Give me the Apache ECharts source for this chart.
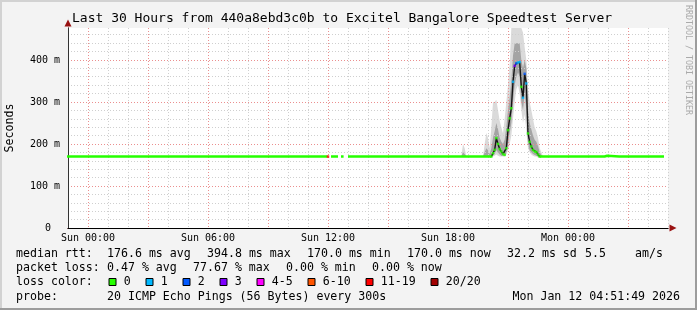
<!DOCTYPE html>
<html><head><meta charset="utf-8">
<script src="https://cdn.jsdelivr.net/npm/echarts@6/dist/echarts.min.js"></script>
<style>html,body{margin:0;padding:0;background:#f3f3f3}#c{width:697px;height:310px}</style>
</head><body><div id="c"></div>
<script>
// ---------- data ----------
const titleText = 'Last 30 Hours from 440a8ebd3c0b to Excitel Bangalore Speedtest Server';
const xTickHours = [0, 6, 12, 18, 24];
const xTickLabels = ['Sun 00:00', 'Sun 06:00', 'Sun 12:00', 'Sun 18:00', 'Mon 00:00'];
const yTickValues = [0, 100, 200, 300, 400];
const yTickLabels = ['0', '100 m', '200 m', '300 m', '400 m'];

// flat median (hours since Sun 00:00), null = no data
const flatTime  = [-1.05, 11.98, 12.06, 12.15, 12.5, 12.58, 12.65, 12.78, 12.9, 13.0, 13.86, 13.9, 13.94, 20.1667, 20.2,
                   22.55, 22.5833, 25.83, 25.88, 25.96, 26.0, 26.56, 26.6, 26.64, 27.31, 27.35, 27.39, 28.31, 28.35, 28.39, 28.8];
const flatValue = [170, 170, null, 170, 170, null, 170, 170, null, 170, 170, 172, 170, 170, null,
                   null, 170, 170, 172, 172, 170, 170, 172, 170, 170, 172, 170, 170, 172, 170, 170];

// spike samples (every 300 s)
const spikeTimes = ['20:10','20:15','20:20','20:25','20:30','20:35','20:40','20:45','20:50','20:55',
                    '21:00','21:05','21:10','21:15','21:20','21:25','21:30','21:35','21:40','21:45',
                    '21:50','21:55','22:00','22:05','22:10','22:15','22:20','22:25','22:30','22:35'];
const spikeMedian = [170,178,186,214,200,188,182,176,174,190,
                     233,261,285,348,386,392,394,395,336,310,
                     367,344,225,205,194,186,182,181,175,170];
const spikeLoss   = [0,0,0,0,0,0,0,0,0,0,
                     0,0,0,1,3,2,1,1,0,1,
                     2,1,0,0,0,0,0,0,0,0];

// isolated loss marks on the flat line
const markTime  = [12.0];
const markValue = [170];
const markLoss  = [6];

// smoke (ping spread)
const smokeTimes = ['18:40','18:45','18:50','18:55','19:45','19:50','19:55','20:00','20:05',
                    '20:10','20:15','20:20','20:25','20:30','20:35','20:40','20:45','20:50','20:55',
                    '21:00','21:05','21:10','21:15','21:20','21:25','21:30','21:35','21:40','21:45',
                    '21:50','21:55','22:00','22:05','22:10','22:15','22:20','22:25','22:30','22:35',
                    '22:40','22:45'];
const smokeLo  = [170,170,170,170,170,170,170,170,170,
                  168,170,172,175,172,170,170,170,170,175,
                  185,200,220,260,300,330,340,320,280,250,
                  270,230,190,180,175,172,170,170,168,168,
                  170,170];
const smokeHi  = [170,200,190,170,170,200,226,215,190,
                  240,300,300,305,280,255,240,225,260,300,
                  340,390,476,476,476,476,476,476,476,465,
                  430,400,330,300,280,260,240,230,215,190,
                  180,170];
const smokeMidLo = [170,170,170,170,170,170,170,170,170,
                    170,172,176,185,180,175,172,172,172,178,
                    200,225,250,300,340,360,370,360,300,280,
                    320,280,200,185,180,176,174,172,170,170,
                    170,170];
const smokeMidHi = [170,180,176,170,170,180,190,185,176,
                    190,215,230,250,235,215,205,200,210,240,
                    280,310,350,410,440,440,440,440,400,380,
                    400,380,280,250,235,220,210,205,195,180,
                    174,170];

const lossColors = ['#26ff00','#00b8ff','#0059ff','#7e00ff','#ff00ff','#ff5500','#ff0000','#a10000'];
const lossLabels = ['0','1','2','3','4-5','6-10','11-19','20/20'];

const statsRow1 = ['median rtt:', '176.6 ms avg', '394.8 ms max', '170.0 ms min', '170.0 ms now', '32.2 ms sd', '5.5', 'am/s'];
const statsRow2 = ['packet loss:', '0.47 % avg', '77.67 % max', '0.00 % min', '0.00 % now'];
const probeText = ['probe:', '20 ICMP Echo Pings (56 Bytes) every 300s', 'Mon Jan 12 04:51:49 2026'];

// ---------- layout ----------
const MONO = '"DejaVu Sans Mono", monospace';
function hm(s) { const p = s.split(':'); return +p[0] + (+p[1]) / 60; }
const spikeT = spikeTimes.map(hm);
const smokeT = smokeTimes.map(hm);

const chart = echarts.init(document.getElementById('c'), null, {renderer: 'canvas'});

const graphics = [];
graphics.push({type:'rect', shape:{x:0,y:0,width:697,height:2}, style:{fill:'#d2d2d2'}, silent:true});
graphics.push({type:'rect', shape:{x:0,y:0,width:2,height:310}, style:{fill:'#d2d2d2'}, silent:true});
graphics.push({type:'rect', shape:{x:0,y:308,width:697,height:2}, style:{fill:'#9c9c9c'}, silent:true});
graphics.push({type:'rect', shape:{x:695,y:0,width:2,height:310}, style:{fill:'#9c9c9c'}, silent:true});

function txt(s, x, y, opts) {
  graphics.push(Object.assign({type:'text', silent:true, x:x, y:y,
    style:Object.assign({text:s, fontFamily:MONO, fontSize:11.6, fill:'#000', align:'left', verticalAlign:'middle'}, (opts && opts.style) || {})},
    opts && opts.rotation !== undefined ? {rotation: opts.rotation} : {}));
}
txt(titleText, 72, 19, {style:{fontSize:13}});
txt('Seconds', 10, 128, {rotation: Math.PI/2, style:{align:'center', fontSize:11.6}});
txt('RRDTOOL / TOBI OETIKER', 688, 60, {rotation: -Math.PI/2, style:{align:'center', fontSize:8.3, fill:'#aaaaaa'}});

const row1X = [16, 107, 207, 307, 407, 507, 585, 635];
statsRow1.forEach((s, i) => txt(s, row1X[i], 254));
const row2X = [16, 107, 193, 286, 372];
statsRow2.forEach((s, i) => txt(s, row2X[i], 268));
txt('loss color:', 16, 282);
let bx = 108.5;
lossLabels.forEach((lab, i) => {
  graphics.push({type:'rect', silent:true, shape:{x:bx+0.5, y:278.5, width:7, height:7},
                 style:{fill:lossColors[i], stroke:'#000', lineWidth:1}});
  txt(lab, bx + 15.3, 282);
  bx += 15.3 + lab.length * 7 + 14.7;
});
txt(probeText[0], 16, 296.5);
txt(probeText[1], 107, 296.5);
txt(probeText[2], 680, 296.5, {style:{align:'right'}});

function bandSeries(lo, hi, color) {
  return {
    type:'custom', silent:true, z:2, clip:true,
    data: smokeT.map((t, i) => [t, lo[i], hi[i]]),
    encode:{x:0, y:[1, 2]},
    renderItem: (params, api) => {
      if (params.dataIndex !== 0) return null;
      const pts = [];
      for (let i = 0; i < smokeT.length; i++) pts.push(api.coord([smokeT[i], hi[i]]));
      for (let i = smokeT.length - 1; i >= 0; i--) pts.push(api.coord([smokeT[i], lo[i]]));
      return {type:'polygon', shape:{points:pts}, style:{fill:color}};
    }
  };
}

const gridLine = {type:[1,2], width:1};
const option = {
  backgroundColor: '#f3f3f3',
  animation: false,
  grid: {left:68, right:29, top:28, bottom:82, show:true, backgroundColor:'#ffffff', borderWidth:0},
  xAxis: [{
    type:'value', min:-1, max:29, interval:1, z:3, position:'bottom',
    axisLine:{show:true, onZero:false, lineStyle:{color:'#000', width:1}},
    axisTick:{show:false},
    axisLabel:{fontFamily:MONO, fontSize:10, color:'#000', margin:5,
      formatter: v => { const k = xTickHours.indexOf(v); return k >= 0 ? xTickLabels[k] : ''; }},
    splitLine:{show:true, showMinLine:true, showMaxLine:true,
      lineStyle:Object.assign({}, gridLine, {color:['#cfcfcf','#eb8f8f','#cfcfcf']})}
  }, {
    type:'value', min:-1, max:29, z:1, position:'bottom', offset:0,
    axisLine:{show:true, onZero:false, symbol:['none','triangle'], symbolSize:[7,7], symbolOffset:[0,5],
      lineStyle:{color:'#991111', width:1}},
    axisTick:{show:false}, axisLabel:{show:false}, splitLine:{show:false}
  }],
  yAxis: [{
    type:'value', min:0, max:476, interval:20, z:3, position:'left',
    axisLine:{show:true, onZero:false, lineStyle:{color:'#333', width:1}},
    axisTick:{show:false},
    axisLabel:{fontFamily:MONO, fontSize:10, color:'#000', margin:8, showMaxLabel:false,
      formatter: v => { const k = yTickValues.indexOf(v); return k < 0 ? '' : (v === 0 ? '{z|0}' : yTickLabels[k]); },
      rich:{z:{fontFamily:MONO, fontSize:10, color:'#000', padding:[0,9,0,0]}}},
    splitLine:{show:true, showMinLine:true, showMaxLine:false,
      lineStyle:Object.assign({}, gridLine, {color:['#eb8f8f','#cfcfcf','#cfcfcf','#cfcfcf','#cfcfcf']})}
  }, {
    type:'value', min:0, max:476, z:1, position:'left', offset:0,
    axisLine:{show:true, onZero:false, symbol:['none','triangle'], symbolSize:[7,7], symbolOffset:[0,5],
      lineStyle:{color:'#991111', width:1}},
    axisTick:{show:false}, axisLabel:{show:false}, splitLine:{show:false}
  }],
  series: [
    bandSeries(smokeLo, smokeHi, '#dadada'),
    bandSeries(smokeMidLo, smokeMidHi, '#a4a4a4'),
    {type:'line', symbol:'none', silent:true, z:3, connectNulls:false,
     lineStyle:{color:lossColors[0], width:2.6},
     data: flatTime.map((t, i) => [t, flatValue[i]])},
    {type:'line', symbol:'none', silent:true, z:4,
     lineStyle:{color:'#151515', width:1.4},
     data: spikeT.map((t, i) => [t, spikeMedian[i]])},
    {type:'scatter', silent:true, z:5, symbol:'rect', symbolSize:[2.5,2.5],
     itemStyle:{color: p => lossColors[p.data[2]]},
     data: spikeT.map((t, i) => [t, spikeMedian[i], spikeLoss[i]])
            .concat(markTime.map((t, i) => [t, markValue[i], markLoss[i]]))}
  ],
  graphic: graphics
};
chart.setOption(option);
</script></body></html>
